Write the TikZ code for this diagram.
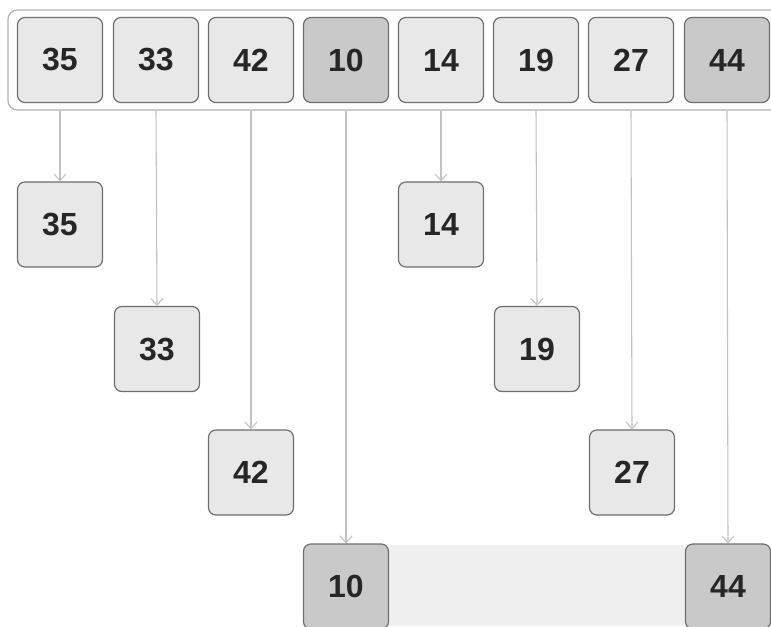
\documentclass[tikz,border=0pt]{standalone}
\usepackage{fontspec}
\setmainfont{Liberation Sans}
\usetikzlibrary{arrows.meta}
\definecolor{cellfill}{HTML}{E8E8E8}
\definecolor{celldark}{HTML}{C9C9C9}
\definecolor{celledge}{HTML}{6E6E6E}
\definecolor{linkgray}{HTML}{C2C2C2}
\tikzset{
  cell/.style={draw=celledge,line width=0.9pt,rounded corners=5.5pt,fill=cellfill,
    minimum width=63.75pt,minimum height=63.75pt,inner sep=0pt,
    font=\fontsize{24}{28}\selectfont\bfseries,text=black!85},
  darkcell/.style={cell,fill=celldark},
  link/.style={draw=linkgray,line width=0.8pt,-{Straight Barb[length=5pt,width=9pt]}}
}
\begin{document}
\begin{tikzpicture}[x=0.75pt,y=-0.75pt]
  \useasboundingbox (0,0) rectangle (771,626);
  \fill[black!6] (389,545) rectangle (685,626);
  \node[draw=black!30,line width=0.9pt,rounded corners=7pt,fill=white,
    minimum width=579pt,minimum height=75pt] (row) at (394,60) {};
  \node[cell] (a1) at (60,60) {35};
  \node[cell] (a2) at (156,60) {33};
  \node[cell] (a3) at (251,60) {42};
  \node[darkcell] (a4) at (346,60) {10};
  \node[cell] (a5) at (441,60) {14};
  \node[cell] (a6) at (536,60) {19};
  \node[cell] (a7) at (631,60) {27};
  \node[darkcell] (a8) at (727,60) {44};
  \node[cell] (b1) at (60,224.5) {35};
  \node[cell] (b2) at (157,349) {33};
  \node[cell] (b3) at (251,472.5) {42};
  \node[darkcell] (b4) at (346,586.5) {10};
  \node[cell] (b5) at (441,224.5) {14};
  \node[cell] (b6) at (537,349) {19};
  \node[cell] (b7) at (632,472.5) {27};
  \node[darkcell] (b8) at (728,586.5) {44};
  \draw[link] (a1 |- row.south) -- (b1.north);
  \draw[link] (a2 |- row.south) -- (b2.north);
  \draw[link] (a3 |- row.south) -- (b3.north);
  \draw[link] (a4 |- row.south) -- (b4.north);
  \draw[link] (a5 |- row.south) -- (b5.north);
  \draw[link] (a6 |- row.south) -- (b6.north);
  \draw[link] (a7 |- row.south) -- (b7.north);
  \draw[link] (a8 |- row.south) -- (b8.north);
\end{tikzpicture}
\end{document}
